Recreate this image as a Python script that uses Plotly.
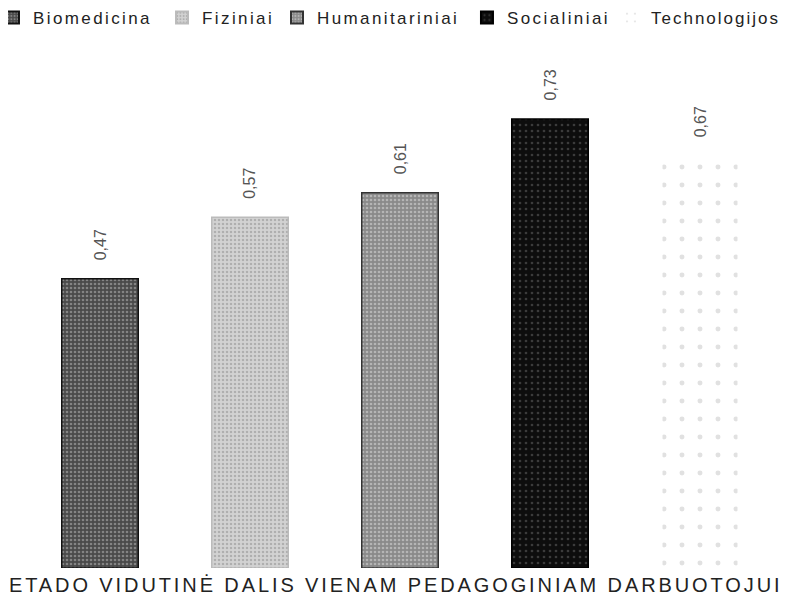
import plotly.graph_objects as go

categories = ["Biomedicina", "Fiziniai", "Humanitariniai", "Socialiniai", "Technologijos"]
values = [0.47, 0.57, 0.61, 0.73, 0.67]
value_labels = ["0,47", "0,57", "0,61", "0,73", "0,67"]
title_text = "ETADO VIDUTINĖ DALIS VIENAM PEDAGOGINIAM DARBUOTOJUI"

fills = ["#4a4a4a", "#d2d2d2", "#8a8a8a", "#0d0d0d", "#ffffff"]
pattern_fg = ["#bdbdbd", "#8c8c8c", "#e0e0e0", "#6a6a6a", "#c4c4c4"]
pattern_shape = [".", ".", ".", ".", "."]
pattern_size = [4, 4, 4, 6, 18]
pattern_sol = [0.35, 0.3, 0.35, 0.15, 0.06]
lines = ["#111111", "#bbbbbb", "#333333", "#000000", "#ffffff"]
legend_x = [-0.0427, 0.1827, 0.336, 0.5893, 0.7813]
legend_spacing = [2.4, 2.4, 2.4, 2.4, 2.0]

def spaced(t, px):
    return '<span style="letter-spacing:%spx">%s</span>' % (px, t)

fig = go.Figure()
legend_layouts = {}
for i, c in enumerate(categories):
    lname = "legend" if i == 0 else "legend%d" % (i + 1)
    fig.add_trace(go.Bar(
        x=[c], y=[values[i]], name=spaced(c, legend_spacing[i]), width=0.51, legend=lname,
        marker=dict(color=fills[i],
                    line=dict(color=lines[i], width=1.5),
                    pattern=dict(shape=pattern_shape[i], fgcolor=pattern_fg[i],
                                 bgcolor=fills[i], size=pattern_size[i],
                                 solidity=pattern_sol[i], fillmode="overlay")),
    ))
    fig.add_annotation(x=c, y=values[i], text=value_labels[i], textangle=-90,
                       showarrow=False, yanchor="bottom", yshift=16,
                       font=dict(family="Liberation Sans", size=16, color="#555555"))
    legend_layouts[lname] = dict(orientation="h", x=legend_x[i], xref="paper", y=1.0965,
                                 xanchor="left", yanchor="top", yref="paper",
                                 bgcolor="rgba(0,0,0,0)",
                                 font=dict(family="Liberation Sans", size=17, color="#222222"),
                                 itemsizing="constant")

fig.add_annotation(xref="paper", yref="paper", x=0.5, y=0, yshift=-17, xshift=-4,
                   xanchor="center", yanchor="middle", showarrow=False,
                   text=spaced(title_text, 2.9),
                   font=dict(family="Liberation Sans", size=20, color="#222222"))

fig.update_layout(
    width=786, height=594,
    barmode="overlay",
    plot_bgcolor="white", paper_bgcolor="white",
    margin=dict(l=17, r=19, t=42, b=34, autoexpand=False),
    showlegend=True,
    xaxis=dict(visible=False, range=[-0.5, 4.5]),
    yaxis=dict(visible=False, range=[0, 0.842]),
    **legend_layouts,
)

fig.write_html("out.html")
